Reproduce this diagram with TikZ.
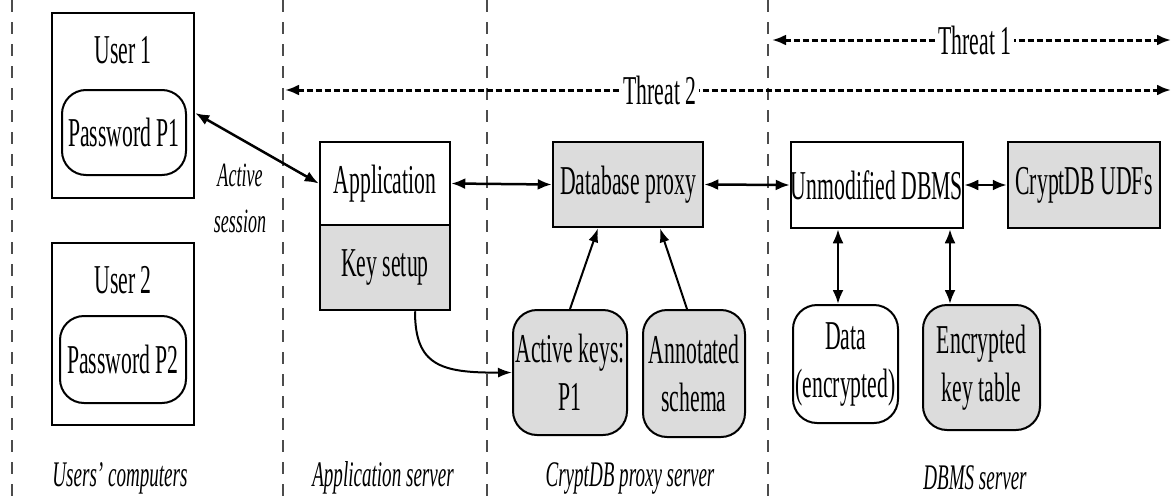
\documentclass[tikz,border=0pt]{standalone}
\usepackage{fontspec}
\setmainfont{Liberation Serif}[FakeStretch=0.53]
\usetikzlibrary{arrows.meta,calc}
\definecolor{boxgray}{HTML}{DCDCDC}
\begin{document}
\begin{tikzpicture}[x=1pt,y=-1pt,
  every node/.style={font=\fontsize{41}{48}\selectfont, inner sep=0pt},
  sqbox/.style={draw, line width=2.5pt, rectangle},
  rbox/.style={draw, line width=2pt, rounded corners=24pt, align=center},
  graybox/.style={fill=boxgray},
  sep/.style={draw=black!70, line width=2.5pt, dash pattern=on 12pt off 10pt},
  conn/.style={line width=2.5pt, {Latex[length=14pt,width=11pt]}-{Latex[length=14pt,width=11pt]}},
  oneway/.style={line width=2pt, -{Latex[length=14pt,width=10pt]}},
  threat/.style={line width=3pt, dash pattern=on 6pt off 3pt, {Latex[length=14pt,width=11pt]}-{Latex[length=14pt,width=11pt]}},
  caption/.style={font=\fontsize{36}{40}\selectfont\itshape}]
\useasboundingbox (0,0) rectangle (1172,498);

% separators
\coordinate (s1t) at (12,0);    \coordinate (s1b) at (12,498);
\coordinate (s2t) at (283,0);   \coordinate (s2b) at (283,498);
\coordinate (s3t) at (487,0);   \coordinate (s3b) at (487,498);
\coordinate (s4t) at (768,0);   \coordinate (s4b) at (768,498);
\draw[sep] (s1t) -- (s1b);
\draw[sep] (s2t) -- (s2b);
\draw[sep] (s3t) -- (s3b);
\draw[sep] (s4t) -- (s4b);

% users
\node[sqbox, minimum width=142pt, minimum height=185pt] (user1) at (123,105.5) {};
\node (u1lab) at (123,50) {User 1};
\node[rbox, minimum width=124pt, minimum height=85pt] (pw1) at (124,132.5) {Password P1};
\node[sqbox, minimum width=142pt, minimum height=182pt] (user2) at (123,334) {};
\node (u2lab) at (123,280) {User 2};
\node[rbox, minimum width=126pt, minimum height=87pt] (pw2) at (123,359.5) {Password P2};

\node[align=center, font=\fontsize{34}{46}\selectfont\itshape] (sess) at (240,198) {Active\\session};

% application server
\node[sqbox, minimum width=130pt, minimum height=83pt] (app) at (385,183.5) {Application};
\node[sqbox, graybox, minimum width=130pt, minimum height=85pt] (keys) at (385,267.5) {Key setup};

% proxy
\node[sqbox, graybox, minimum width=150pt, minimum height=85pt] (proxy) at (628,184.5) {Database proxy};
\node[rbox, graybox, minimum width=114pt, minimum height=125pt] (akeys) at (570,372.5) {Active keys:\\P1};
\node[rbox, graybox, minimum width=102pt, minimum height=127pt] (asch) at (694,373.5) {Annotated\\schema};

% DBMS
\node[sqbox, minimum width=170pt, minimum height=86pt] (dbms) at (877,185) {Unmodified DBMS};
\node[sqbox, graybox, minimum width=152pt, minimum height=86pt] (udf) at (1084,185) {CryptDB UDFs};
\node[rbox, minimum width=105pt, minimum height=118pt] (data) at (845.5,364) {Data\\(encrypted)};
\node[rbox, graybox, minimum width=117pt, minimum height=125pt] (ekt) at (981.5,367.5) {Encrypted\\key table};

% captions
\node[caption] (c1) at (120,478) {Users' computers};
\node[caption] (c2) at (383,478) {Application server};
\node[caption] (c3) at (630,478) {CryptDB proxy server};
\node[caption] (c4) at (975,478) {DBMS server};

% connectors
\coordinate (d1) at ([xshift=-39pt]dbms.south);
\coordinate (d2) at ([xshift=73pt]dbms.south);
\draw[conn] (app.west) -- ([yshift=-7.5pt]user1.east);
\draw[conn] (app.east) -- (proxy.west);
\draw[conn] (proxy.east) -- (dbms.west);
\draw[conn] (dbms.east) -- (udf.west);
\draw[oneway] (akeys.north) -- ([xshift=-30pt]proxy.south);
\draw[oneway] ([xshift=-7pt]asch.north) -- ([xshift=32pt]proxy.south);
\draw[oneway] ([xshift=30pt]keys.south) .. controls (415,365) and (440,373) .. (akeys.west);
\draw[conn] (d1) -- (d1 |- data.north);
\draw[conn] (d2) -- (d2 |- ekt.north);

% threats
\coordinate (t1a) at (772,40);  \coordinate (t1b) at (1171,40);
\coordinate (t2a) at (285,90);  \coordinate (t2b) at (1171,90);
\draw[threat] (t1a) -- (t1b);
\draw[threat] (t2a) -- (t2b);
\node[fill=white, inner xsep=2pt, inner ysep=1pt] (th1) at (975,40) {Threat 1};
\node[fill=white, inner xsep=2pt, inner ysep=1pt] (th2) at (660,90) {Threat 2};
\end{tikzpicture}
\end{document}
